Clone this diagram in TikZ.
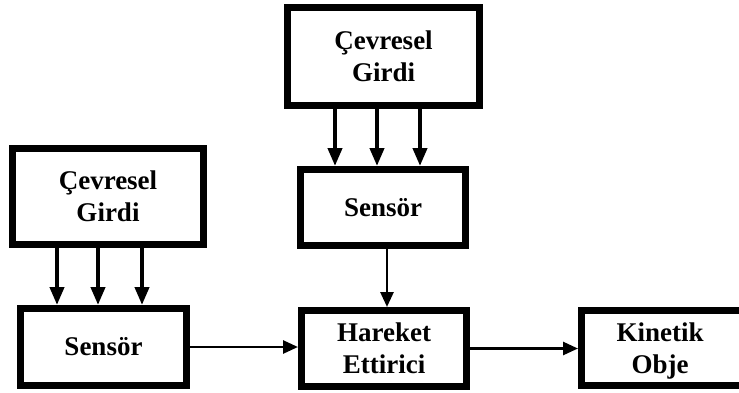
\documentclass[tikz,border=0pt]{standalone}
\usepackage{fontspec}
\setmainfont{Liberation Serif}
\usetikzlibrary{arrows.meta}
\begin{document}
\begin{tikzpicture}[x=1pt,y=-1pt,
  txt/.style={align=center, font=\fontsize{27}{31.5}\selectfont\bfseries},
  block/.style={txt, draw=black, line width=7pt, fill=white, inner sep=0pt},
  feed/.style={line width=4pt, -{Triangle[width=14pt,length=18pt]}},
  link/.style={line width=2.7pt, -{Triangle[width=13pt,length=15pt]}}]
\useasboundingbox (0,0) rectangle (739,392);
\clip (0,0) rectangle (739,392);

% blocks
\node[block, minimum width=192pt, minimum height=98pt] (tc) at (383.5,56.5) {Çevresel\\Girdi};
\node[block, minimum width=165pt, minimum height=76pt] (ts) at (383,207.5) {Sensör};
\node[block, minimum width=191pt, minimum height=96pt] (lc) at (108,196.5) {Çevresel\\Girdi};
\node[block, minimum width=166pt, minimum height=77pt] (ls) at (103.5,347) {Sensör};
\node[block, minimum width=165pt, minimum height=76pt] (hr) at (384,348.5) {Hareket\\Ettirici};
% the output block runs past the right edge of the page
\node[block, minimum width=200pt, minimum height=75pt,
      label={[txt, anchor=center, xshift=-21.5pt, yshift=-3pt]center:Kinetik\\Obje}] (kin) at (681.5,348) {};

% inputs feeding the sensors
\foreach \dx in {-48.5,-6.5,36.5}
  \draw[feed] ([xshift=\dx pt]tc.south) -- ([xshift=\dx pt]tc.south |- ts.north);
\foreach \dx in {-51,-10,34}
  \draw[feed] ([xshift=\dx pt]lc.south) -- ([xshift=\dx pt]lc.south |- ls.north);

% signal path
\draw[link] ([xshift=4pt]ts.south) -- ([xshift=4pt]ts.south |- hr.north);
\draw[link] (ls.east) -- (ls.east -| hr.west);
\draw[link] (hr.east) -- (hr.east -| kin.west);
\end{tikzpicture}
\end{document}
